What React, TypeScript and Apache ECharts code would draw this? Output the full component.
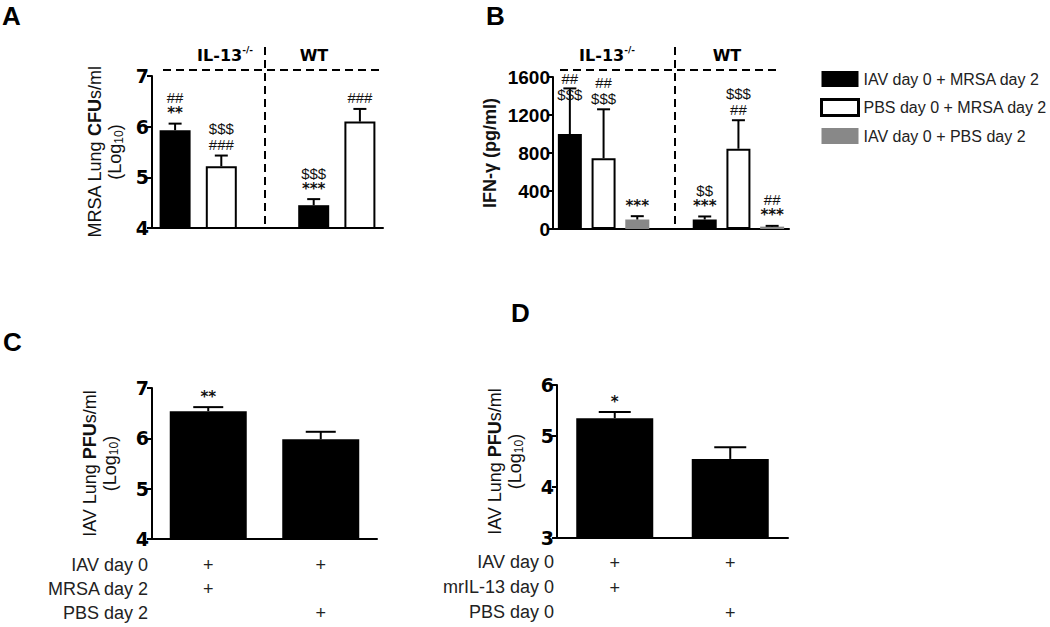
import React, { useEffect, useRef } from "react";
import * as echarts from "echarts";

const SANS = "Liberation Sans, Arial, Helvetica, sans-serif";
const WIDE = "DejaVu Sans, Verdana, sans-serif";

const LEGEND_NAMES = ["IAV day 0 + MRSA day 2", "PBS day 0 + MRSA day 2", "IAV day 0 + PBS day 2"];
const GROUP_HEADERS = ["IL-13", "WT"];

// Panel A: MRSA lung CFUs (log10)
const aCategories = ["IL-13-/- IAV+MRSA", "IL-13-/- PBS+MRSA", "", "WT IAV+MRSA", "WT PBS+MRSA"];
const aIavMrsa = [5.93, null, null, 4.45, null];
const aPbsMrsa = [null, 5.22, null, null, 6.1];
const aSem = [0.13, 0.21, null, 0.12, 0.25];
const aMarks = [["##", "**"], ["$$$", "###"], [], ["$$$", "***"], ["###"]];

// Panel B: IFN-gamma (pg/ml)
const bCategories = ["IL-13-/- IAV+MRSA", "IL-13-/- PBS+MRSA", "IL-13-/- IAV+PBS", "", "WT IAV+MRSA", "WT PBS+MRSA", "WT IAV+PBS"];
const bIavMrsa = [1000, null, null, null, 100, null, null];
const bPbsMrsa = [null, 745, null, null, null, 845, null];
const bIavPbs = [null, null, 100, null, null, null, 25];
const bSem = [480, 515, 35, null, 32, 300, 8];
const bMarks = [["##", "$$$"], ["##", "$$$"], ["***"], [], ["$$", "***"], ["$$$", "##"], ["##", "***"]];

// Panel C: IAV lung PFUs (log10)
const cCategories = ["IAV + MRSA", "IAV + PBS"];
const cMeans = [6.54, 5.98];
const cSem = [0.08, 0.15];
const cMarks = [["**"], []];
const cRowNames = ["IAV day 0", "MRSA day 2", "PBS day 2"];
const cConditions = [["+", "+", ""], ["+", "", "+"]];

// Panel D: IAV lung PFUs (log10)
const dCategories = ["IAV + mrIL-13", "IAV + PBS"];
const dMeans = [5.35, 4.55];
const dSem = [0.12, 0.23];
const dMarks = [["*"], []];
const dRowNames = ["IAV day 0", "mrIL-13 day 0", "PBS day 0"];
const dConditions = [["+", "+", ""], ["+", "", "+"]];

const MARK_RICH = {
  a: { fontFamily: WIDE, fontWeight: "bold", fontSize: 15, lineHeight: 15, fill: "#111", color: "#111" },
  h: { fontFamily: SANS, fontSize: 15, lineHeight: 16, fill: "#111", color: "#111" },
};

function slotMeans(...arrs: (number | null)[][]) {
  return arrs[0].map((_, i) => {
    for (const a of arrs) if (a[i] != null) return a[i];
    return null;
  });
}

function errorSeries(idx: number, means: (number | null)[], sems: (number | null)[], marks: string[][], capHalf: number, anchorMax?: number) {
  const data = means
    .map((m, i) => (m == null ? null : [i, m, sems[i] as number]))
    .filter((d) => d !== null);
  return {
    type: "custom",
    xAxisIndex: idx,
    yAxisIndex: idx,
    data,
    encode: { x: 0, y: 1 },
    silent: true,
    clip: false,
    z: 5,
    renderItem: (params: any, api: any) => {
      const i = api.value(0);
      const m = api.value(1);
      const e = api.value(2);
      const p0 = api.coord([i, m]);
      const p1 = api.coord([i, m + e]);
      const lines = marks[i] || [];
      const aval = anchorMax != null ? Math.min(m + e, anchorMax) : m + e;
      const ay = api.coord([i, aval])[1];
      const children: any[] = [
        { type: "line", shape: { x1: p0[0], y1: p0[1], x2: p1[0], y2: p1[1] }, style: { stroke: "#000", lineWidth: 2 } },
        { type: "line", shape: { x1: p1[0] - capHalf, y1: p1[1], x2: p1[0] + capHalf, y2: p1[1] }, style: { stroke: "#000", lineWidth: 2 } },
      ];
      if (lines.length) {
        children.push({
          type: "text",
          x: p0[0],
          y: ay - 3,
          style: {
            text: lines.map((l) => `{${l.includes("*") ? "a" : "h"}|${l}}`).join("\n"),
            align: "center",
            verticalAlign: "bottom",
            rich: MARK_RICH,
          },
        });
      }
      return { type: "group", children };
    },
  };
}

function yAxis(gridIndex: number, min: number, max: number, interval: number, labelFont: any, name: string, nameGap: number, nameTextStyle: any) {
  return {
    type: "value",
    gridIndex,
    min,
    max,
    interval,
    splitLine: { show: false },
    axisLine: { show: true, lineStyle: { color: "#000", width: 2 } },
    axisTick: { show: true, length: 5, lineStyle: { color: "#000", width: 2 } },
    axisLabel: { margin: 3, color: "#000", fontWeight: "bold", formatter: (v: number) => String(v), ...labelFont },
    name,
    nameLocation: "middle",
    nameGap,
    nameTextStyle,
  };
}

const LOG_NAME_RICH = {
  n: { fontFamily: SANS, fontSize: 18, lineHeight: 20, color: "#111" },
  b: { fontFamily: SANS, fontSize: 18, lineHeight: 20, fontWeight: "bold", color: "#111" },
  s: { fontFamily: SANS, fontSize: 12, lineHeight: 12, verticalAlign: "bottom", color: "#111" },
};

function xAxisPlain(gridIndex: number, data: string[]) {
  return {
    type: "category",
    gridIndex,
    data,
    axisLine: { show: true, onZero: false, lineStyle: { color: "#000", width: 2 } },
    axisTick: { show: false },
    axisLabel: { show: false },
  };
}

function xAxisConditions(gridIndex: number, data: string[], conds: string[][], margin: number, lineHeight: number) {
  return {
    type: "category",
    gridIndex,
    data,
    axisLine: { show: true, onZero: false, lineStyle: { color: "#000", width: 2 } },
    axisTick: { show: false },
    axisLabel: {
      show: true,
      interval: 0,
      margin,
      lineHeight,
      fontSize: 18,
      fontFamily: SANS,
      color: "#222",
      formatter: (_v: string, idx: number) => conds[idx].map((s) => s || " ").join("\n"),
    },
  };
}

function header(x: number, text: string, sup: boolean) {
  return {
    type: "text",
    x,
    y: 55,
    style: {
      text: sup ? `{b|${text}}{s|-/-}` : `{b|${text}}`,
      align: "center",
      verticalAlign: "middle",
      rich: {
        b: { fontFamily: WIDE, fontWeight: "bold", fontSize: 16, lineHeight: 20, fill: "#000" },
        s: { fontFamily: WIDE, fontWeight: "bold", fontSize: 9, lineHeight: 9, verticalAlign: "top", fill: "#000" },
      },
    },
  };
}

function dashed(x1: number, y1: number, x2: number, y2: number) {
  return { type: "line", shape: { x1, y1, x2, y2 }, style: { stroke: "#000", lineWidth: 2, lineDash: [8, 5] } };
}

function letter(x: number, y: number, t: string) {
  return { type: "text", x, y, style: { text: t, fontFamily: SANS, fontWeight: "bold", fontSize: 26, fill: "#000" } };
}

function rowLabels(x: number, y0: number, step: number, names: string[]) {
  return names.map((n, k) => ({
    type: "text",
    x,
    y: y0 + k * step,
    style: { text: n, align: "right", verticalAlign: "middle", fontFamily: SANS, fontSize: 18, fill: "#222" },
  }));
}

export default function App() {
  const ref = useRef<HTMLDivElement>(null);
  useEffect(() => {
    document.body.style.margin = "0";
    if (!ref.current) return;
    const chart = echarts.init(ref.current, undefined, { renderer: "svg" });
    const aMean = slotMeans(aIavMrsa, aPbsMrsa);
    const bMean = slotMeans(bIavMrsa, bPbsMrsa, bIavPbs);
    const whiteStyle = { color: "#fff", borderColor: "#000", borderWidth: 2 };
    const grayColor = "#888";
    const wideFont = { fontFamily: WIDE, fontSize: 19 };
    const option: any = {
      animation: false,
      backgroundColor: "#fff",
      grid: [
        { left: 152, top: 76, width: 231, height: 152 },
        { left: 553, top: 77, width: 236, height: 152 },
        { left: 152, top: 388, width: 225, height: 151 },
        { left: 557, top: 385, width: 231, height: 153 },
      ],
      xAxis: [
        xAxisPlain(0, aCategories),
        xAxisPlain(1, bCategories),
        xAxisConditions(2, cCategories, cConditions, 14, 24),
        xAxisConditions(3, dCategories, dConditions, 12, 25),
      ],
      yAxis: [
        yAxis(0, 4, 7, 1, wideFont, "{n|MRSA Lung }{b|CFU}{n|s/ml}\n{n|(Log}{s|10}{n|)}", 27, { rich: LOG_NAME_RICH }),
        yAxis(1, 0, 1600, 400, { fontFamily: SANS, fontSize: 19 }, "IFN-\u03b3 (pg/ml)", 54, { fontFamily: SANS, fontWeight: "bold", fontSize: 18, color: "#111" }),
        yAxis(2, 4, 7, 1, wideFont, "{n|IAV Lung }{b|PFU}{n|s/ml}\n{n|(Log}{s|10}{n|)}", 32, { rich: LOG_NAME_RICH }),
        yAxis(3, 3, 6, 1, wideFont, "{n|IAV Lung }{b|PFU}{n|s/ml}\n{n|(Log}{s|10}{n|)}", 32, { rich: LOG_NAME_RICH }),
      ],
      legend: {
        left: 815,
        top: 66,
        orient: "vertical",
        itemWidth: 37,
        itemHeight: 16,
        itemGap: 11,
        icon: "rect",
        selectedMode: false,
        textStyle: { fontFamily: SANS, fontSize: 16, color: "#222" },
        data: [
          { name: LEGEND_NAMES[0] },
          { name: LEGEND_NAMES[1], itemStyle: { color: "#fff", borderColor: "#000", borderWidth: 3 } },
          { name: LEGEND_NAMES[2] },
        ],
      },
      series: [
        { type: "bar", name: LEGEND_NAMES[0], xAxisIndex: 0, yAxisIndex: 0, data: aIavMrsa, barWidth: 31, barGap: "-100%", itemStyle: { color: "#000" } },
        { type: "bar", name: LEGEND_NAMES[1], xAxisIndex: 0, yAxisIndex: 0, data: aPbsMrsa, barWidth: 31, barGap: "-100%", itemStyle: whiteStyle },
        errorSeries(0, aMean, aSem, aMarks, 6.5),
        { type: "bar", name: LEGEND_NAMES[0], xAxisIndex: 1, yAxisIndex: 1, data: bIavMrsa, barWidth: 24, barGap: "-100%", itemStyle: { color: "#000" } },
        { type: "bar", name: LEGEND_NAMES[1], xAxisIndex: 1, yAxisIndex: 1, data: bPbsMrsa, barWidth: 24, barGap: "-100%", itemStyle: whiteStyle },
        { type: "bar", name: LEGEND_NAMES[2], xAxisIndex: 1, yAxisIndex: 1, data: bIavPbs, barWidth: 24, barGap: "-100%", itemStyle: { color: grayColor } },
        errorSeries(1, bMean, bSem, bMarks, 6.5, 1300),
        { type: "bar", name: "C", xAxisIndex: 2, yAxisIndex: 2, data: cMeans, barWidth: 77, itemStyle: { color: "#000" } },
        errorSeries(2, cMeans, cSem, cMarks, 15),
        { type: "bar", name: "D", xAxisIndex: 3, yAxisIndex: 3, data: dMeans, barWidth: 77, itemStyle: { color: "#000" } },
        errorSeries(3, dMeans, dSem, dMarks, 16),
      ],
      graphic: [
        letter(2, 3, "A"),
        letter(486, 3, "B"),
        letter(3, 329, "C"),
        letter(511, 300, "D"),
        dashed(163, 70, 382, 70),
        dashed(265, 47, 265, 228),
        dashed(560, 70, 779, 70),
        dashed(675, 47, 675, 229),
        header(225, GROUP_HEADERS[0], true),
        header(314, GROUP_HEADERS[1], false),
        header(607, GROUP_HEADERS[0], true),
        header(727, GROUP_HEADERS[1], false),
        ...rowLabels(148, 565, 24, cRowNames),
        ...rowLabels(554, 562, 25, dRowNames),
      ],
    };
    chart.setOption(option);
    return () => chart.dispose();
  }, []);
  return <div ref={ref} style={{ width: 1050, height: 627 }} />;
}
